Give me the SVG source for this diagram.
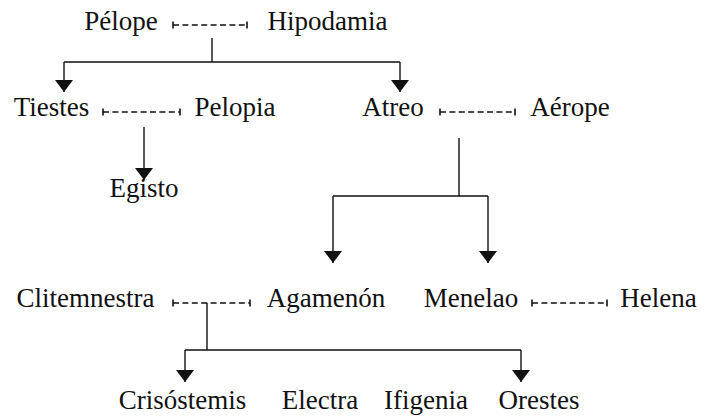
<svg xmlns="http://www.w3.org/2000/svg" width="705" height="419" viewBox="0 0 705 419">
<style>
.t{font-family:'Liberation Serif','Times New Roman',Times,'DejaVu Serif',serif;font-size:27px;fill:#111;text-anchor:middle}
.ln{stroke:#111;stroke-width:1.4;fill:none}
.dash{stroke:#111;stroke-width:1.4;fill:none;stroke-dasharray:6 3.4;marker-start:url(#tick);marker-end:url(#tick)}
.arr{stroke:#111;stroke-width:1.4;fill:none;marker-end:url(#head)}
</style>
<defs>
<marker id="head" markerUnits="userSpaceOnUse" markerWidth="12" markerHeight="18" viewBox="0 0 12 18" refX="12" refY="9" orient="auto">
<path d="M0,0 L12,9 L0,18 Z" fill="#111"/>
</marker>
<marker id="tick" markerUnits="userSpaceOnUse" markerWidth="4" markerHeight="8" viewBox="-2 -4 4 8" refX="0" refY="0" orient="auto">
<path d="M0,-3.5 L0,3.5" stroke="#111" stroke-width="1.6"/>
</marker>
</defs>
<rect width="705" height="419" fill="#fff"/>
<g id="connectors">
<path class="dash" d="M173,25 H247"/>
<path class="dash" d="M103,112 H180"/>
<path class="dash" d="M440,112 H515"/>
<path class="dash" d="M173,303 H250"/>
<path class="dash" d="M532,303 H607"/>
<path class="ln" d="M212,38 V62 M64,62 H400"/>
<path class="arr" d="M64,62 V92"/>
<path class="arr" d="M400,62 V92"/>
<path class="arr" d="M144,127 V180"/>
<path class="ln" d="M459,138 V196 M333,196 H488"/>
<path class="arr" d="M333,196 V263"/>
<path class="arr" d="M488,196 V263"/>
<path class="ln" d="M207,303 V350 M185,350 H521"/>
<path class="arr" d="M185,350 V382"/>
<path class="arr" d="M521,350 V382"/>
</g>
<g id="pelope"><text class="t" x="121" y="30">Pélope</text></g>
<g id="hipodamia"><text class="t" x="327.5" y="30">Hipodamia</text></g>
<g id="tiestes"><text class="t" x="51.5" y="116">Tiestes</text></g>
<g id="pelopia"><text class="t" x="235" y="116">Pelopia</text></g>
<g id="atreo"><text class="t" x="393" y="116">Atreo</text></g>
<g id="aerope"><text class="t" x="570" y="116">Aérope</text></g>
<g id="egisto"><text class="t" x="144" y="197">Egisto</text></g>
<g id="clitemnestra"><text class="t" x="85.5" y="307">Clitemnestra</text></g>
<g id="agamenon"><text class="t" x="326" y="307">Agamenón</text></g>
<g id="menelao"><text class="t" x="471" y="307">Menelao</text></g>
<g id="helena"><text class="t" x="658.5" y="307">Helena</text></g>
<g id="crisostemis"><text class="t" x="182.5" y="409">Crisóstemis</text></g>
<g id="electra"><text class="t" x="320" y="409">Electra</text></g>
<g id="ifigenia"><text class="t" x="426" y="409">Ifigenia</text></g>
<g id="orestes"><text class="t" x="539" y="409">Orestes</text></g>
</svg>
